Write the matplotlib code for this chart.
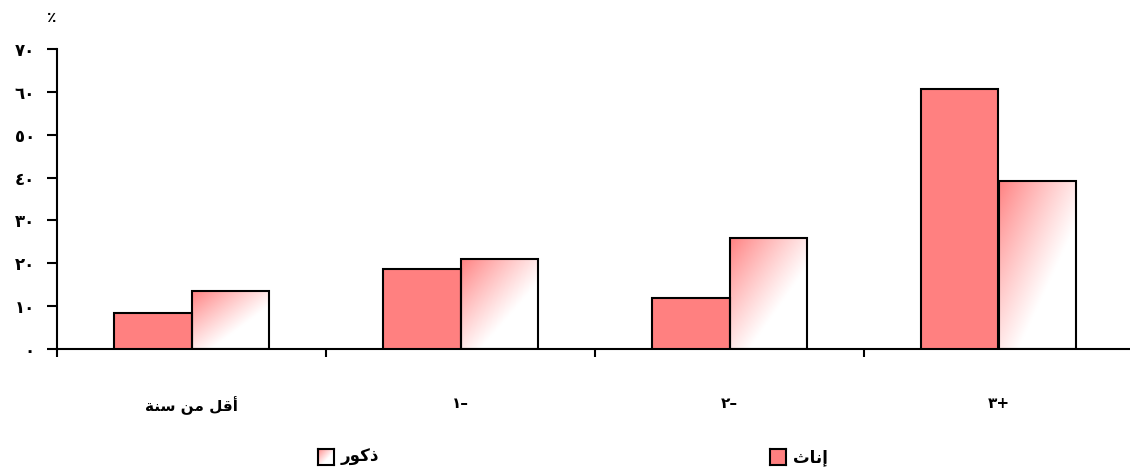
import numpy as np
import matplotlib
matplotlib.use('Agg')
from matplotlib import pyplot as plt
from matplotlib.patches import Rectangle

categories = ['أقل من سنة', '١–', '٢–', '٣+']
female = [8.4, 18.7, 11.9, 60.7]
male = [13.5, 21.0, 25.9, 39.2]
y_ticks = [0, 10, 20, 30, 40, 50, 60, 70]
female_label = 'إناث'
male_label = 'ذكور'

PINK = np.array([255, 128, 128]) / 255
WHITE = np.array([1.0, 1.0, 1.0])
BAR_W = 0.288

# matplotlib does no arabic shaping, so do a tiny one by hand
# letter: (isolated, final, initial, medial); two forms = joins only to the right
FORMS = {
    'أ': (0xFE83, 0xFE84), 'إ': (0xFE87, 0xFE88), 'ا': (0xFE8D, 0xFE8E),
    'ة': (0xFE93, 0xFE94), 'ث': (0xFE99, 0xFE9A, 0xFE9B, 0xFE9C),
    'ذ': (0xFEAB, 0xFEAC), 'ر': (0xFEAD, 0xFEAE),
    'س': (0xFEB1, 0xFEB2, 0xFEB3, 0xFEB4), 'ق': (0xFED5, 0xFED6, 0xFED7, 0xFED8),
    'ك': (0xFED9, 0xFEDA, 0xFEDB, 0xFEDC), 'ل': (0xFEDD, 0xFEDE, 0xFEDF, 0xFEE0),
    'م': (0xFEE1, 0xFEE2, 0xFEE3, 0xFEE4), 'ن': (0xFEE5, 0xFEE6, 0xFEE7, 0xFEE8),
    'و': (0xFEED, 0xFEEE),
}


def shape(s):
    if not any(c in FORMS for c in s):
        return s
    out = []
    for i, c in enumerate(s):
        if c not in FORMS:
            out.append(c)
            continue
        prev = s[i-1] if i > 0 else ''
        nxt = s[i+1] if i + 1 < len(s) else ''
        join_prev = prev in FORMS and len(FORMS[prev]) == 4
        join_next = nxt in FORMS and len(FORMS[c]) == 4
        f = FORMS[c]
        if join_prev and join_next:
            out.append(chr(f[3]))
        elif join_prev:
            out.append(chr(f[1]))
        elif join_next:
            out.append(chr(f[2]))
        else:
            out.append(chr(f[0]))
    return ''.join(out)[::-1]


def arabic_digits(n):
    return str(n).translate(str.maketrans('0123456789', '٠١٢٣٤٥٦٧٨٩'))


def gradient(n=120):
    u, v = np.meshgrid(np.linspace(0, 1, n), np.linspace(0, 1, n))
    t = np.clip((u + v) / 1.25, 0, 1) ** 0.9
    return PINK * (1 - t[..., None]) + WHITE * t[..., None]


plt.rcParams['font.family'] = ['DejaVu Sans']
plt.rcParams['font.weight'] = 'bold'

fig = plt.figure(figsize=(11.3, 4.73), dpi=100)
ax = fig.add_axes([57/1130, 124/473, 1076/1130, 300/473])

x = np.arange(len(categories))
ax.bar(x - BAR_W/2, female, BAR_W, color=PINK, edgecolor='black', linewidth=1.5, zorder=3)
bars = ax.bar(x + BAR_W/2, male, BAR_W, facecolor='none', edgecolor='black', linewidth=1.5, zorder=3)

grad = gradient()
for b in bars:
    x0, y0, w, h = b.get_x(), b.get_y(), b.get_width(), b.get_height()
    im = ax.imshow(grad, extent=(x0, x0 + w, y0, y0 + h), origin='upper',
                   aspect='auto', interpolation='bilinear', zorder=2)
    im.set_clip_path(Rectangle((x0, y0), w, h, transform=ax.transData))

ax.set_xlim(-0.5, len(categories) - 0.5)
ax.set_ylim(0, 70)
ax.set_yticks(y_ticks)
ax.set_yticklabels([arabic_digits(v) for v in y_ticks], fontsize=12, fontweight='bold')
ax.set_xticks(x)
ax.set_xticklabels([shape(c) for c in categories], fontsize=11, fontweight='bold')
ax.set_xticks(np.arange(-0.5, len(categories)), minor=True)
ax.tick_params(axis='x', which='major', length=0, pad=34)
ax.tick_params(axis='x', which='minor', length=6, width=1.5, direction='out')
ax.tick_params(axis='y', length=7, width=1.5, pad=9)

for side in ('top', 'right'):
    ax.spines[side].set_visible(False)
for side in ('left', 'bottom'):
    ax.spines[side].set_linewidth(1.5)

fig.text(52/1130, 1 - 18/473, '٪', ha='center', va='center', fontsize=11)

# legend, laid out right to left like the original
for (px, label, face) in ((318, male_label, 'grad'), (770, female_label, 'flat')):
    lax = fig.add_axes([px/1130, 1 - 465/473, 16/1130, 16/473])
    if face == 'grad':
        lax.imshow(gradient(40), extent=(0, 1, 0, 1), aspect='auto', origin='upper')
    else:
        lax.set_facecolor(PINK)
    lax.set_xticks([])
    lax.set_yticks([])
    for s in lax.spines.values():
        s.set_linewidth(1.5)
    fig.text((px + 23)/1130, 1 - 457/473, shape(label), ha='left', va='center',
             fontsize=12, fontweight='bold')

fig.savefig('out.png', dpi=100)
